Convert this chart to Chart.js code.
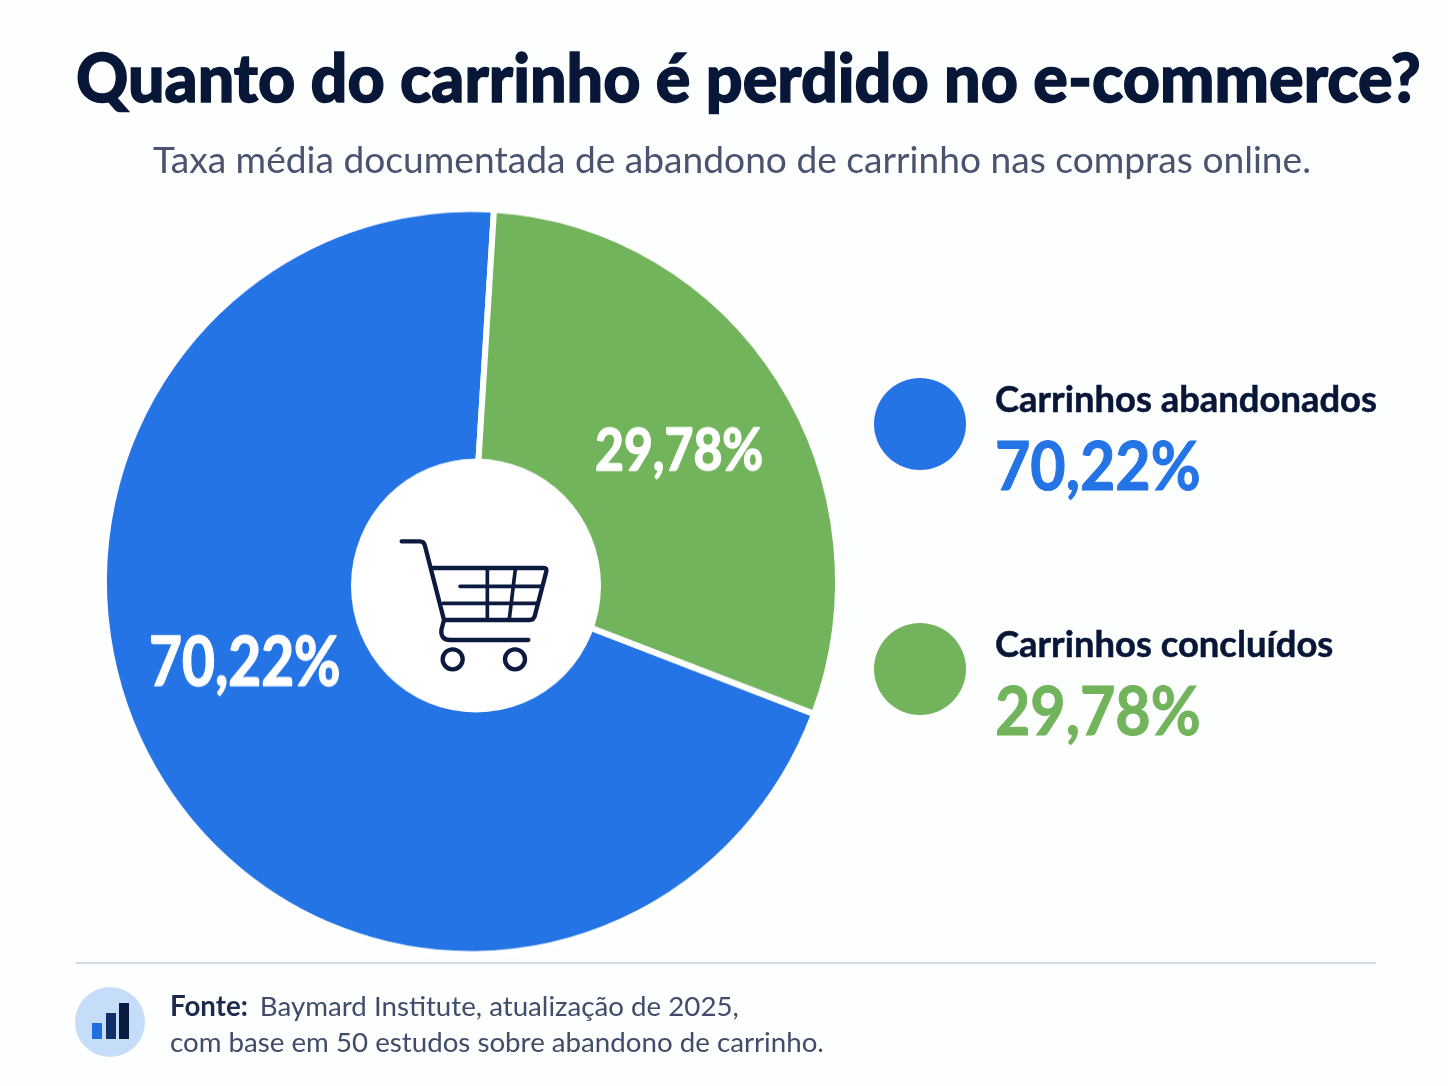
<!DOCTYPE html>
<html lang="pt">
<head>
<meta charset="utf-8">
<title>Quanto do carrinho é perdido no e-commerce?</title>
<script src="https://cdn.jsdelivr.net/npm/chart.js@4"></script>
<style>
html,body{margin:0;padding:0;background:#fdfefe;width:1448px;height:1086px;overflow:hidden;font-family:Lato,sans-serif}
#wrap{position:relative;width:1448px;height:1086px}
canvas{position:absolute;left:0;top:0;transform-origin:0 581.5px;transform:scaleY(1.0152)}
.t{position:absolute;white-space:nowrap;line-height:1;transform-origin:0 50%}
#title{left:76px;top:43px;font-size:67px;font-weight:900;color:#081638;-webkit-text-stroke:1.4px #081638;transform:scaleX(.964)}
#sub{left:153px;top:140px;font-size:37.15px;font-weight:400;color:#4a5470}
.dot{position:absolute;width:92px;height:92px;border-radius:50%;left:873.5px}
.lab{left:995px;font-size:36.4px;font-weight:700;color:#081638;-webkit-text-stroke:.5px #081638}
.val{left:995px;font-size:67px;font-weight:700;transform:scaleX(.91);-webkit-text-stroke:1px currentColor}
#rule{position:absolute;left:76px;top:962px;width:1300px;height:2px;background:#d6dae3}
#src{position:absolute;left:170px;top:988px;font-size:27.7px;line-height:36px;color:#414c6b;white-space:nowrap}
#src b{color:#1c2a50;font-weight:700;margin-right:12px}
svg{position:absolute}
</style>
</head>
<body>
<div id="wrap">
<canvas id="c" width="1448" height="1086"></canvas>
<div class="t" id="title">Quanto do carrinho é perdido no e-commerce?</div>
<div class="t" id="sub">Taxa média documentada de abandono de carrinho nas compras online.</div>
<div id="legend"></div>
<div id="rule"></div>
<svg style="left:75px;top:987px" width="70" height="70" viewBox="0 0 70 70">
<circle cx="35" cy="35" r="35" fill="#c6ddfa"/>
<rect x="17" y="36" width="10" height="16" fill="#1f6fe0"/>
<rect x="31" y="26" width="10" height="26" fill="#0f2f66"/>
<rect x="44" y="16" width="10" height="36" fill="#0a1a40"/>
</svg>
<div id="src"><b>Fonte:</b>Baymard Institute, atualização de 2025,<br>com base em 50 estudos sobre abandono de carrinho.</div>
<svg style="left:340px;top:450px" width="270" height="270" viewBox="0 0 810 810" fill="none" stroke="#0b1a3e" stroke-width="13" stroke-linecap="round" stroke-linejoin="round">
<path d="M185 274H240Q252 274 255 288L312 510L304 540Q302 570 330 570H565"/>
<path d="M274 354H612Q621 354 619 364L585 495Q582 510 568 510H312"/>
<path d="M442 358V506M526 358L508 506M360 409H604M310 460H590" stroke-width="11"/>
<circle cx="338" cy="628" r="30"/>
<circle cx="525" cy="628" r="30"/>
</svg>
</div>
<script>
const categories = ['Carrinhos abandonados', 'Carrinhos concluídos'];
const values = [70.22, 29.78];
const valueLabels = ['70,22%', '29,78%'];
const colors = ['#2474e5', '#72b45c'];
const legendTops = [378, 623];

// Legend, built from the same arrays as the chart
const legend = document.getElementById('legend');
categories.forEach((name, i) => {
  const top = legendTops[i];
  legend.insertAdjacentHTML('beforeend',
    `<div class="dot" style="top:${top}px;background:${colors[i]}"></div>` +
    `<div class="t lab" style="top:${top + 2}px">${name}</div>` +
    `<div class="t val" style="top:${top + 53}px;color:${colors[i]}">${valueLabels[i]}</div>`);
});

// White hub and slice labels
const hubAndLabels = {
  id: 'hubAndLabels',
  afterDatasetsDraw(chart) {
    const ctx = chart.ctx;
    const arcs = chart.getDatasetMeta(0).data;
    const cx = arcs[0].x, cy = arcs[0].y;
    ctx.save();
    ctx.fillStyle = '#ffffff';
    ctx.beginPath();
    ctx.arc(cx + 5, cy + 4, 125, 0, Math.PI * 2);
    ctx.fill();
    ctx.textAlign = 'center';
    ctx.textBaseline = 'middle';
    ctx.lineJoin = 'round';
    ctx.strokeStyle = '#ffffff';
    // label direction (degrees clockwise from the top), distance relative to the radius, font size, width factor
    const placement = [[250.2, 0.655, 66, 0.86], [58.5, 0.665, 57, 0.875]];
    arcs.forEach((arc, i) => {
      const [deg, rel, size, squeeze] = placement[i];
      const a = deg * Math.PI / 180, r = rel * arc.outerRadius;
      const x = cx + r * Math.sin(a), y = cy - r * Math.cos(a);
      ctx.save();
      ctx.translate(x, y);
      ctx.scale(squeeze, 1);
      ctx.font = `700 ${size}px Lato, sans-serif`;
      ctx.lineWidth = 1.5;
      ctx.fillText(valueLabels[i], 0, 0);
      ctx.strokeText(valueLabels[i], 0, 0);
      ctx.restore();
    });
    ctx.restore();
  }
};

new Chart(document.getElementById('c'), {
  type: 'pie',
  data: {
    labels: categories,
    datasets: [{
      data: values,
      backgroundColor: colors,
      borderColor: '#ffffff',
      borderWidth: 6
    }]
  },
  options: {
    responsive: false,
    animation: false,
    rotation: 110.8,
    layout: { padding: { left: 101, right: 607, top: 211.5, bottom: 134.5 } },
    plugins: { legend: { display: false }, tooltip: { enabled: false } }
  },
  plugins: [hubAndLabels]
});
</script>
</body>
</html>
